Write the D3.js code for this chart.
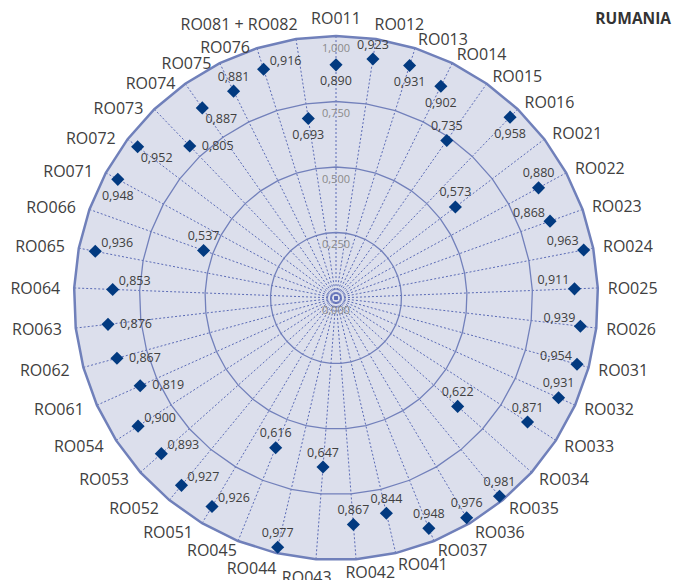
<!DOCTYPE html>
<html>
<head>
<meta charset="utf-8">
<script src="https://cdn.jsdelivr.net/npm/d3@7"></script>
<style>
  html, body { margin: 0; padding: 0; background: #ffffff; }
  svg { display: block; font-family: "Open Sans", "Noto Sans", sans-serif; }
</style>
</head>
<body>
<svg id="chart" width="673" height="580"></svg>
<script>
// Regions (NUTS-3), clockwise from the top
const regions = [
  "RO011", "RO012", "RO013", "RO014", "RO015", "RO016",
  "RO021", "RO022", "RO023", "RO024", "RO025", "RO026",
  "RO031", "RO032", "RO033", "RO034", "RO035", "RO036", "RO037",
  "RO041", "RO042", "RO043", "RO044", "RO045",
  "RO051", "RO052", "RO053", "RO054",
  "RO061", "RO062", "RO063", "RO064", "RO065", "RO066",
  "RO071", "RO072", "RO073", "RO074", "RO075", "RO076",
  "RO081 + RO082"
];

// Index value per region
const values = [
  0.890, 0.923, 0.931, 0.902, 0.735, 0.958,
  0.573, 0.880, 0.868, 0.963, 0.911, 0.939,
  0.954, 0.931, 0.871, 0.622, 0.981, 0.976, 0.948,
  0.844, 0.867, 0.647, 0.977, 0.616,
  0.926, 0.927, 0.893, 0.900,
  0.819, 0.867, 0.876, 0.853, 0.936, 0.537,
  0.948, 0.952, 0.805, 0.887, 0.881, 0.916,
  0.693
];

// Radial axis ticks
const ticks = [0, 0.25, 0.5, 0.75, 1.0];
const tickLabels = ["0,000", "0,250", "0,500", "0,750", "1,000"];

// Where each value label sits relative to its marker
const labelPos = [
  "B", "T", "B", "B", "T", "B",
  "T", "T", "TL", "TL", "TL", "TL",
  "TL", "T", "T", "T", "T", "T", "T",
  "T", "T", "T", "T", "T",
  "TR", "TR", "TR", "TR",
  "R", "R", "R", "TR", "TR", "T",
  "B", "BR", "R", "BR", "T", "TR",
  "B"
];

const title = "RUMANIA";

const svg = d3.select("#chart");
const cx = 336, cy = 298, R = 262;
const n = regions.length;

const angle = d3.scaleLinear().domain([0, n]).range([0, 2 * Math.PI]);
const radius = d3.scaleLinear().domain([0, 1]).range([0, R]);
const fmt = v => d3.format(".3f")(v).replace(".", ",");

const pt = (i, r) => {
  const a = angle(i);
  return [cx + r * Math.sin(a), cy - r * Math.cos(a)];
};
const ring = r => d3.range(n).map(i => pt(i, r));
const line = d3.line().curve(d3.curveLinearClosed);

// Plot area background
svg.append("path")
  .attr("d", line(ring(R)))
  .attr("fill", "#dcdfec")
  .attr("stroke", "none");

// Spokes
svg.append("g").selectAll("line")
  .data(regions)
  .join("line")
  .attr("x1", cx).attr("y1", cy)
  .attr("x2", (d, i) => pt(i, R)[0])
  .attr("y2", (d, i) => pt(i, R)[1])
  .attr("stroke", "#5b6bb6")
  .attr("stroke-width", 1)
  .attr("stroke-dasharray", "2,2");

// Grid rings
svg.append("g").selectAll("path")
  .data(ticks.filter(t => t > 0 && t < 1))
  .join("path")
  .attr("d", t => line(ring(radius(t))))
  .attr("fill", "none")
  .attr("stroke", "#7280bb")
  .attr("stroke-width", 1.3);

// Outer border
svg.append("path")
  .attr("d", line(ring(R)))
  .attr("fill", "none")
  .attr("stroke", "#7080ba")
  .attr("stroke-width", 2.5);

// Tick labels along the top spoke
svg.append("g").selectAll("text")
  .data(ticks)
  .join("text")
  .attr("x", cx)
  .attr("y", t => cy - radius(t) + 11)
  .attr("text-anchor", "middle")
  .attr("dominant-baseline", "central")
  .attr("font-size", 11)
  .attr("fill", "#8a8a8a")
  .text((t, i) => tickLabels[i]);

// Category labels outside the border: each label box is pinned to a point
// just beyond its spoke end; the pinned spot on the box slides from
// bottom-centre (top of chart) or top-centre (bottom of chart) to the
// side edges (left / right of chart).
const catSize = 16, catGap = 10;
const edgeX = Math.PI / 18, edgeY = Math.PI / 12, edgeB = Math.PI / 9;
const clamp = (v, lo = -1, hi = 1) => Math.max(lo, Math.min(hi, v));
const cats = svg.append("g").selectAll("text")
  .data(regions)
  .join("text")
  .attr("font-size", catSize)
  .attr("fill", "#404040")
  .attr("text-anchor", "middle")
  .attr("dominant-baseline", "central")
  .text(d => d);
cats.each(function(d, i) {
  const w = this.getComputedTextLength();
  const h = catSize * 1.05;
  const a = angle(i);
  const s = Math.sin(a), c = Math.cos(a);
  const bottom = c < -0.9;
  const px = cx + (R + catGap) * s + (s < 0 && !bottom ? -4 : 0);
  const py = cy - (R + catGap) * c;
  let fx, fy;
  if (bottom) {
    fx = clamp(0.45 - 0.5 * clamp(s / Math.sin(edgeX)), 0, 1);
  } else {
    fx = 0.5 - 0.5 * clamp(s / Math.sin(edgeX));
  }
  if (c > Math.cos(edgeY)) {
    const u = (c - Math.cos(edgeY)) / (1 - Math.cos(edgeY));
    fy = 0.5 + 0.5 * u;
  } else if (-c > Math.cos(edgeB)) {
    const u = (-c - Math.cos(edgeB)) / (1 - Math.cos(edgeB));
    fy = s < 0 ? 0.5 - 0.5 * u : 0.5 - 0.15 * u;
  } else if (s < 0 && c > 0) {
    fy = 0.5 - 0.5 * clamp((c - 0.3) / 0.55, 0, 1);
  } else {
    fy = 0.5;
  }
  d3.select(this)
    .attr("x", px - fx * w + w / 2)
    .attr("y", py - fy * h + h / 2);
});

// Markers
const diamond = d3.symbol().type(d3.symbolSquare).size(86);
svg.append("g").selectAll("path")
  .data(values)
  .join("path")
  .attr("d", diamond)
  .attr("transform", (v, i) => {
    const [x, y] = pt(i, radius(v));
    return `translate(${x},${y}) rotate(45)`;
  })
  .attr("fill", "#023a80");

// Value labels
const offsets = {
  T: [0, -15], B: [0, 16], TL: [-21, -9], TR: [22, -9],
  R: [28, -1], BR: [19, 11]
};
svg.append("g").selectAll("text")
  .data(values)
  .join("text")
  .attr("x", (v, i) => pt(i, radius(v))[0] + offsets[labelPos[i]][0])
  .attr("y", (v, i) => pt(i, radius(v))[1] + offsets[labelPos[i]][1])
  .attr("text-anchor", "middle")
  .attr("dominant-baseline", "central")
  .attr("font-size", 12.5)
  .attr("fill", "#404040")
  .text(v => fmt(v));

// Title
svg.append("text")
  .attr("x", 671).attr("y", 18)
  .attr("text-anchor", "end")
  .attr("dominant-baseline", "central")
  .attr("font-size", 15.5)
  .attr("font-weight", "bold")
  .attr("fill", "#333333")
  .text(title);
</script>
</body>
</html>
